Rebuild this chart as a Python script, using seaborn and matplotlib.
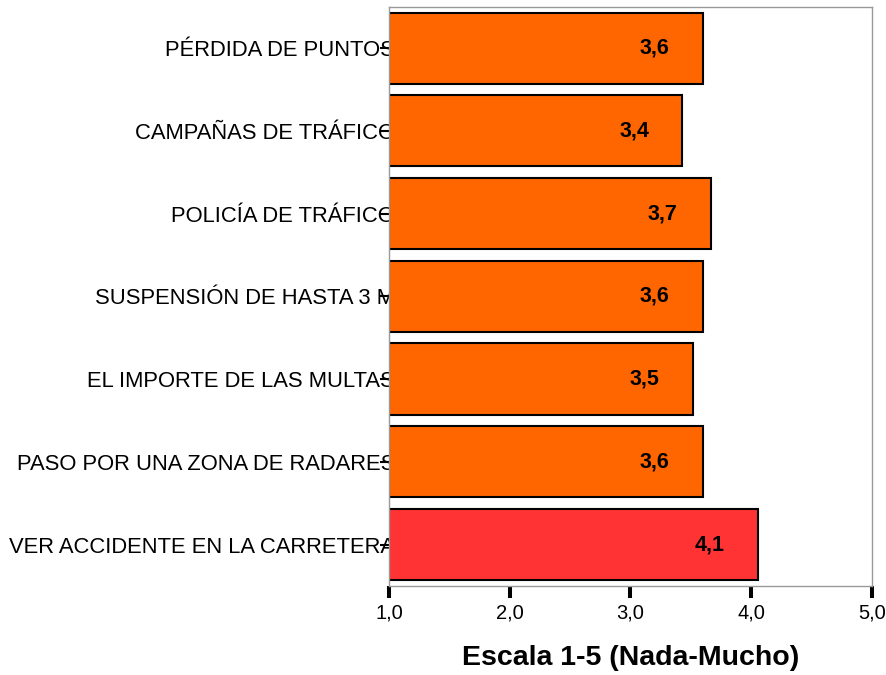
import matplotlib
matplotlib.use('Agg')
import matplotlib.pyplot as plt
import seaborn as sns
import pandas as pd
from matplotlib.transforms import Bbox, TransformedBbox

# Datos (escala 1-5)
factores = ['PÉRDIDA DE PUNTOS', 'CAMPAÑAS DE TRÁFICO', 'POLICÍA DE TRÁFICO',
            'SUSPENSIÓN DE HASTA 3 M', 'EL IMPORTE DE LAS MULTAS',
            'PASO POR UNA ZONA DE RADARES', 'VER ACCIDENTE EN LA CARRETERA']
medias = [3.60, 3.43, 3.67, 3.60, 3.52, 3.60, 4.06]
colores = ['#FF6600'] * 6 + ['#FF3333']
ticks_x = [1, 2, 3, 4, 5]

sns.set_style('white')
plt.rcParams['font.family'] = ['Liberation Sans', 'DejaVu Sans']
plt.rcParams.update({'text.color': 'black', 'axes.labelcolor': 'black',
                     'xtick.color': 'black', 'ytick.color': 'black'})

df = pd.DataFrame({'factor': factores, 'media': medias})
df['desde_1'] = df['media'] - 1

fig = plt.figure(figsize=(8.86, 6.75), dpi=100)
ax = fig.add_axes([0.439, 0.132, 0.545, 0.858])

# barras que empiezan en 1,0
sns.barplot(data=df, x='desde_1', y='factor', hue='factor', palette=colores,
            saturation=1, legend=False, left=1, width=0.86,
            edgecolor='black', linewidth=1.5, ax=ax)

for i, v in enumerate(medias):
    ax.text(v - 0.4, i, f'{v:.1f}'.replace('.', ','), ha='center', va='center',
            fontsize=15.5, fontweight='bold', color='black')

ax.set_xlim(1, 5)
ax.set_ylim(6.5, -0.5)
ax.set_xticks(ticks_x)
ax.set_xticklabels([f'{t:.1f}'.replace('.', ',') for t in ticks_x])
ax.set_ylabel('')
ax.set_xlabel('Escala 1-5 (Nada-Mucho)', fontsize=20.5, fontweight='bold', labelpad=16)

for s in ax.spines.values():
    s.set_color('#999999')
    s.set_linewidth(1)

ax.tick_params(axis='x', direction='out', length=8.6, width=2.9, color='black',
               labelsize=14.5, pad=4, bottom=True)
ax.tick_params(axis='y', direction='out', length=6.5, width=1.5, color='black',
               labelsize=15.8, pad=-10.8, left=True)

# las etiquetas largas quedan cortadas por el borde del grafico
clip = TransformedBbox(Bbox([[0, 0], [0.439, 1]]), fig.transFigure)
for lab in ax.get_yticklabels():
    lab.set_clip_box(clip)
    lab.set_clip_on(True)

fig.savefig('out.png', dpi=100)
